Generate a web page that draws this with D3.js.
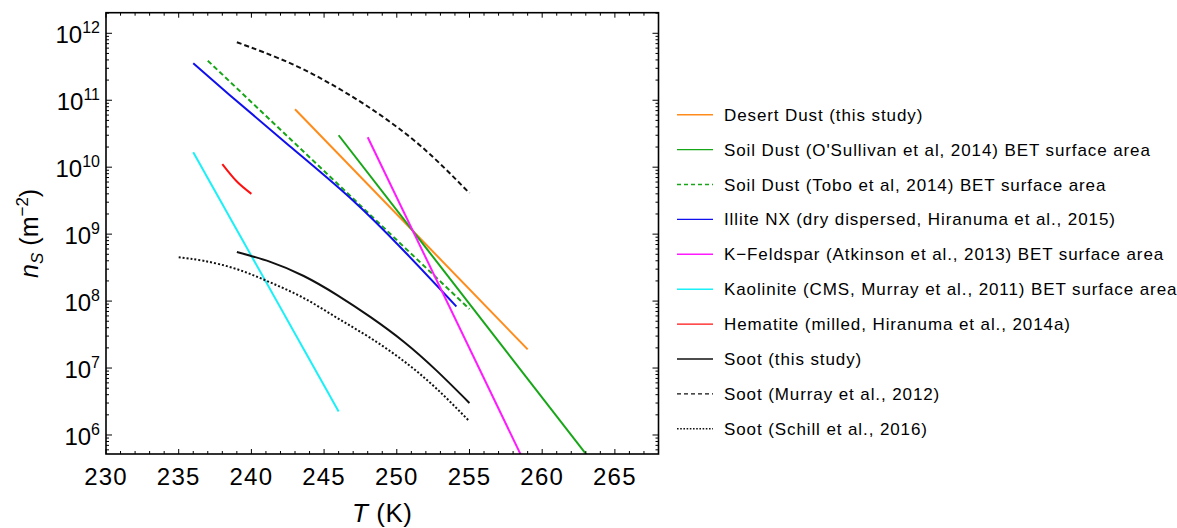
<!DOCTYPE html>
<html>
<head>
<meta charset="utf-8">
<script src="https://cdn.jsdelivr.net/npm/d3@7"></script>
<style>
  html, body { margin: 0; padding: 0; background: #fff; }
  svg { display: block; }
  text { font-family: "Liberation Sans", Arial, sans-serif; fill: #000; }
</style>
</head>
<body>
<svg id="chart" width="1177" height="528"></svg>
<script>
// Ice nucleation active site density n_S (m^-2) against temperature T (K)

// Axis ranges and tick labels
const tDomain = [230, 268];
const nsDomain = [5.2e5, 2.03e12];
const tTicks = [230, 235, 240, 245, 250, 255, 260, 265];
const nsExponents = [6, 7, 8, 9, 10, 11, 12];

// Series: temperature (K) and n_S (m^-2)
const desertDustT = [243.0, 259.0];
const desertDustNs = [7.35e10, 1.9e7];

const soilOSullivanT = [246.0, 263.2];
const soilOSullivanNs = [3.0e10, 4.6e5];

const soilToboT = [237.0, 255.0];
const soilToboNs = [3.9e11, 7.6e7];

const illiteT = [236.0, 238.5, 242.5, 246.8, 250.5, 254.1];
const illiteNs = [3.56e11, 1.2e11, 2.19e10, 3.47e9, 5.6e8, 8.3e7];

const feldsparT = [248.0, 258.6];
const feldsparNs = [2.8e10, 4.7e5];

const kaoliniteT = [236.0, 246.0];
const kaoliniteNs = [1.67e10, 2.25e6];

const hematiteT = [238.0, 239.0, 240.0];
const hematiteNs = [1.11e10, 6.1e9, 4.0e9];

const sootThisT = [239.0, 241.3, 243.6, 245.9, 248.2, 250.5, 252.7, 255.0];
const sootThisNs = [5.4e8, 3.85e8, 2.37e8, 1.23e8, 5.75e7, 2.45e7, 9.3e6, 3.0e6];

const sootMurrayT = [239.0, 240.8, 243.1, 245.4, 247.7, 250.0, 252.3, 255.0];
const sootMurrayNs = [7.35e11, 5.25e11, 3.24e11, 1.78e11, 8.9e10, 4.0e10, 1.55e10, 4.1e9];

const sootSchillT = [235.0, 236.7, 239.0, 241.3, 243.6, 245.9, 248.2, 250.5, 252.7, 255.0];
const sootSchillNs = [4.5e8, 4.0e8, 3.0e8, 1.9e8, 1.11e8, 5.6e7, 2.8e7, 1.26e7, 5.0e6, 1.6e6];

const legendLabels = [
  "Desert Dust (this study)",
  "Soil Dust (O'Sullivan et al, 2014) BET surface area",
  "Soil Dust (Tobo et al, 2014) BET surface area",
  "Illite NX (dry dispersed, Hiranuma et al., 2015)",
  "K\u2212Feldspar (Atkinson et al., 2013) BET surface area",
  "Kaolinite (CMS, Murray et al., 2011) BET surface area",
  "Hematite (milled, Hiranuma et al., 2014a)",
  "Soot (this study)",
  "Soot (Murray et al., 2012)",
  "Soot (Schill et al., 2016)"
];

const series = [
  { t: desertDustT, ns: desertDustNs, color: "#ff8c1a", dash: null },
  { t: soilOSullivanT, ns: soilOSullivanNs, color: "#17a617", dash: null },
  { t: soilToboT, ns: soilToboNs, color: "#17a617", dash: "dash" },
  { t: illiteT, ns: illiteNs, color: "#1010ee", dash: null },
  { t: feldsparT, ns: feldsparNs, color: "#ff1aff", dash: null },
  { t: kaoliniteT, ns: kaoliniteNs, color: "#1af0f8", dash: null },
  { t: hematiteT, ns: hematiteNs, color: "#ff1010", dash: null },
  { t: sootThisT, ns: sootThisNs, color: "#111", dash: null },
  { t: sootMurrayT, ns: sootMurrayNs, color: "#111", dash: "dash" },
  { t: sootSchillT, ns: sootSchillNs, color: "#111", dash: "dot" }
];

const plotDash = { dash: "5,3", dot: "2,2" };
const legendDash = { dash: "4,3", dot: "1.6,1.6" };

const plot = { left: 106, right: 658.5, top: 12.7, bottom: 454 };

const svg = d3.select("#chart");
const x = d3.scaleLinear().domain(tDomain).range([plot.left, plot.right]);
const y = d3.scaleLog().domain(nsDomain).range([plot.bottom, plot.top]);

svg.append("defs").append("clipPath").attr("id", "plotClip")
  .append("rect")
  .attr("x", plot.left).attr("y", plot.top)
  .attr("width", plot.right - plot.left).attr("height", plot.bottom - plot.top);

// Curves
const line = d3.line()
  .x(d => x(d[0]))
  .y(d => y(d[1]))
  .curve(d3.curveNatural);

const curves = svg.append("g").attr("clip-path", "url(#plotClip)");
series.forEach(s => {
  curves.append("path")
    .attr("d", line(s.t.map((t, i) => [t, s.ns[i]])))
    .attr("fill", "none")
    .attr("stroke", s.color)
    .attr("stroke-width", 2)
    .attr("stroke-dasharray", s.dash ? plotDash[s.dash] : null);
});

// Ticks (inward on all four sides)
const axes = svg.append("g").attr("stroke", "#000").attr("stroke-width", 1);
const majorLen = 5, minorLen = 3;
const minorT = d3.range(tDomain[0], tDomain[1] + 0.001, 1);
minorT.forEach(t => {
  const len = tTicks.includes(t) ? majorLen : minorLen;
  const px = x(t);
  axes.append("line").attr("x1", px).attr("x2", px).attr("y1", plot.bottom).attr("y2", plot.bottom - len);
  axes.append("line").attr("x1", px).attr("x2", px).attr("y1", plot.top).attr("y2", plot.top + len);
});
const yTickVals = [];
for (let e = 5; e <= 12; e++) {
  for (let m = 1; m <= 9; m++) {
    const v = m * Math.pow(10, e);
    if (v >= nsDomain[0] && v <= nsDomain[1]) yTickVals.push({ v, major: m === 1 });
  }
}
yTickVals.forEach(d => {
  const len = d.major ? majorLen + 1 : minorLen;
  const py = y(d.v);
  axes.append("line").attr("x1", plot.left).attr("x2", plot.left + len).attr("y1", py).attr("y2", py);
  axes.append("line").attr("x1", plot.right).attr("x2", plot.right - len).attr("y1", py).attr("y2", py);
});

// Frame
svg.append("rect")
  .attr("x", plot.left).attr("y", plot.top)
  .attr("width", plot.right - plot.left).attr("height", plot.bottom - plot.top)
  .attr("fill", "none").attr("stroke", "#000").attr("stroke-width", 1.6);

// Tick labels
svg.append("g").selectAll("text").data(tTicks).join("text")
  .attr("x", d => x(d)).attr("y", 485)
  .attr("text-anchor", "middle")
  .attr("font-size", 24)
  .attr("letter-spacing", 1.2)
  .text(d => d);

const yLab = svg.append("g").selectAll("text").data(nsExponents).join("text")
  .attr("x", plot.left - 6)
  .attr("y", d => y(Math.pow(10, d)) + 10)
  .attr("text-anchor", "end")
  .attr("font-size", 24);
yLab.append("tspan").text("10");
yLab.append("tspan").attr("dy", -10).attr("font-size", 16).text(d => d);

// Axis titles
const xt = svg.append("text")
  .attr("x", (plot.left + plot.right) / 2).attr("y", 522)
  .attr("text-anchor", "middle").attr("font-size", 26).attr("letter-spacing", 0.5);
xt.append("tspan").attr("font-style", "italic").text("T");
xt.append("tspan").text(" (K)");

const yt = svg.append("text")
  .attr("transform", `translate(38,${(plot.top + plot.bottom) / 2}) rotate(-90)`)
  .attr("text-anchor", "middle").attr("font-size", 25);
yt.append("tspan").attr("font-style", "italic").text("n");
yt.append("tspan").attr("font-style", "italic").attr("font-size", 17).attr("dy", 5).text("S");
yt.append("tspan").attr("dy", -5).text(" (m");
yt.append("tspan").attr("font-size", 17).attr("dy", -10).text("\u22122");
yt.append("tspan").attr("dy", 10).text(")");

// Legend
const legend = svg.append("g");
series.forEach((s, i) => {
  const ly = 114.7 + i * 34.9;
  legend.append("line")
    .attr("x1", 677).attr("x2", 713).attr("y1", ly).attr("y2", ly)
    .attr("stroke", s.color).attr("stroke-width", 1.4)
    .attr("stroke-dasharray", s.dash ? legendDash[s.dash] : null);
  legend.append("text")
    .attr("x", 724).attr("y", ly + 6)
    .attr("font-size", 17)
    .attr("letter-spacing", 0.9)
    .text(legendLabels[i]);
});
</script>
</body>
</html>
